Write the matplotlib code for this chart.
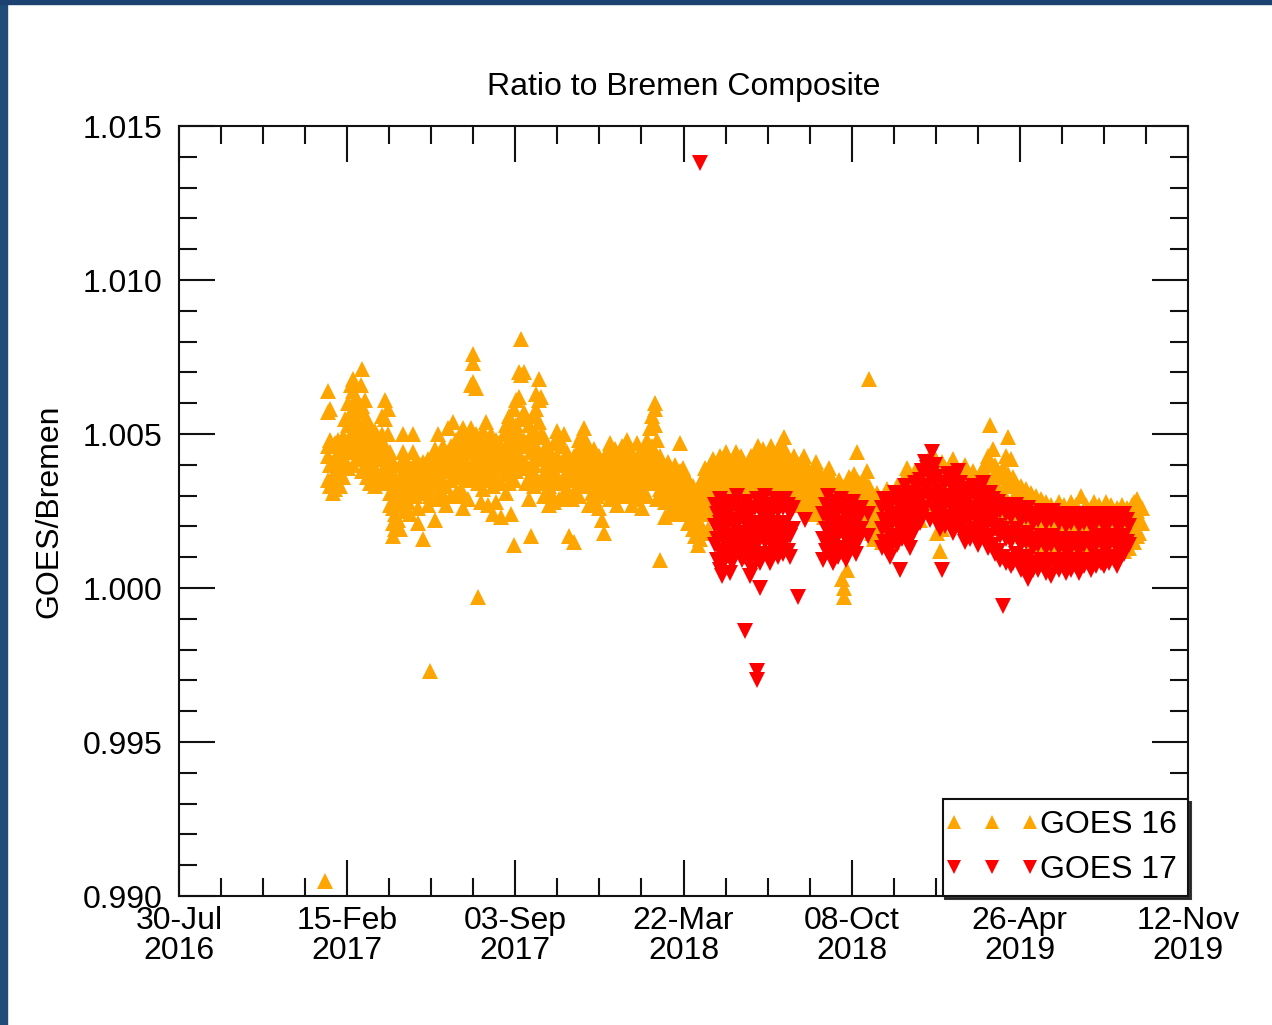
import numpy as np
import matplotlib
matplotlib.use("Agg")
import matplotlib.pyplot as plt
import matplotlib.dates as mdates
from matplotlib.ticker import FixedLocator, MultipleLocator, FormatStrFormatter
from matplotlib.patches import Rectangle
from matplotlib.lines import Line2D
from matplotlib.legend_handler import HandlerLine2D

plt.rcParams['font.family'] = ['Liberation Sans', 'DejaVu Sans']

# ---------------- data ----------------
start_date = np.datetime64('2016-07-30')
end_date = np.datetime64('2019-11-12')
tick_dates = ['2016-07-30', '2017-02-15', '2017-09-03', '2018-03-22',
              '2018-10-08', '2019-04-26', '2019-11-12']

title = 'Ratio to Bremen Composite'
ylabel = 'GOES/Bremen'
series_names = ['GOES 16', 'GOES 17']

# days since 2016-07-30 and the ratios observed on/around that day
g16_days = [174, 177, 180, 183, 186, 189, 192, 195, 198, 201, 204, 207, 210, 213, 216, 218, 221, 224, 227, 230,
            233, 236, 239, 242, 245, 248, 251, 254, 257, 260, 263, 266, 269, 272, 275, 278, 281, 284, 287, 290,
            293, 296, 299, 302, 305, 308, 311, 314, 317, 320, 323, 326, 329, 332, 335, 338, 341, 344, 347, 350,
            353, 356, 359, 362, 365, 368, 371, 374, 377, 380, 383, 386, 389, 392, 395, 398, 401, 404, 407, 410,
            413, 416, 419, 422, 425, 428, 431, 434, 437, 440, 443, 446, 449, 452, 455, 458, 461, 464, 467, 470,
            473, 476, 479, 482, 485, 488, 491, 494, 497, 500, 503, 506, 509, 512, 515, 518, 521, 524, 527, 530,
            533, 536, 539, 542, 545, 548, 551, 554, 557, 560, 563, 566, 569, 572, 575, 578, 581, 584, 587, 590,
            593, 596, 599, 602, 605, 608, 611, 614, 617, 620, 623, 626, 629, 632, 635, 638, 641, 644, 647, 650,
            653, 656, 659, 662, 665, 668, 671, 674, 677, 680, 683, 686, 689, 692, 695, 698, 701, 704, 707, 710,
            713, 716, 719, 722, 725, 728, 731, 734, 737, 740, 743, 746, 749, 752, 755, 758, 761, 764, 767, 770,
            773, 776, 779, 782, 785, 788, 791, 794, 797, 800, 803, 806, 809, 812, 815, 818, 821, 824, 827, 830,
            833, 836, 839, 842, 845, 848, 851, 854, 857, 860, 863, 866, 869, 872, 875, 878, 881, 884, 887, 890,
            893, 896, 899, 902, 905, 908, 911, 914, 917, 920, 923, 926, 929, 932, 935, 938, 941, 944, 947, 950,
            953, 956, 959, 962, 965, 968, 971, 974, 977, 980, 983, 986, 989, 992, 995, 998, 1001, 1004, 1007, 1010,
            1013, 1016, 1019, 1022, 1025, 1028, 1031, 1034, 1037, 1040, 1043, 1046, 1049, 1052, 1055, 1058, 1061,
            1064, 1067, 1070, 1073, 1076, 1079, 1082, 1085, 1088, 1091, 1094, 1097, 1100, 1103, 1106, 1109, 1112,
            1115, 1118, 1121, 1124, 1127, 1130, 1133, 1136, 1139, 1142, 1145]

g16_vals = [
    [0.9905], [1.0064, 1.0057, 1.0046, 1.0043, 1.0035], [1.0058, 1.0048, 1.0040, 1.0033], [1.0046, 1.0041, 1.0036, 1.0031],
    [1.0047, 1.0038, 1.0032], [1.0048, 1.0042, 1.0037], [1.0045, 1.0039, 1.0033], [1.0049, 1.0043, 1.0036],
    [1.0055, 1.0048, 1.0041], [1.0060, 1.0053, 1.0046, 1.0039], [1.0066, 1.0057, 1.0050, 1.0044],
    [1.0068, 1.0064, 1.0055, 1.0047, 1.0040], [1.0062, 1.0058, 1.0051, 1.0044], [1.0060, 1.0054, 1.0048, 1.0042],
    [1.0066, 1.0057, 1.0050, 1.0043], [1.0071, 1.0059, 1.0052, 1.0046, 1.0038], [1.0061, 1.0054, 1.0047, 1.0040],
    [1.0055, 1.0049, 1.0043, 1.0036], [1.0052, 1.0046, 1.0040, 1.0034], [1.0049, 1.0044, 1.0038],
    [1.0051, 1.0045, 1.0039, 1.0033], [1.0047, 1.0042, 1.0036], [1.0048, 1.0043, 1.0035], [1.0056, 1.0050, 1.0044, 1.0037],
    [1.0061, 1.0055, 1.0046, 1.0040, 1.0034], [1.0058, 1.0050, 1.0042, 1.0036], [1.0044, 1.0038, 1.0031, 1.0027],
    [1.0041, 1.0034, 1.0026, 1.0021, 1.0017], [1.0036, 1.0030, 1.0024, 1.0019], [1.0033, 1.0027, 1.0022],
    [1.0040, 1.0034, 1.0028, 1.0019], [1.0050, 1.0044, 1.0038, 1.0032], [1.0042, 1.0037, 1.0031, 1.0025],
    [1.0040, 1.0035, 1.0028], [1.0039, 1.0034, 1.0030, 1.0024], [1.0050, 1.0044, 1.0038, 1.0032],
    [1.0041, 1.0036, 1.0030], [1.0039, 1.0033, 1.0026, 1.0021], [1.0040, 1.0036, 1.0031],
    [1.0041, 1.0037, 1.0033, 1.0016], [1.0040, 1.0036, 1.0032], [1.0042, 1.0038, 1.0033, 1.0027],
    [1.0040, 1.0036, 1.0030, 0.9973], [1.0043, 1.0038, 1.0034], [1.0045, 1.0039, 1.0034, 1.0022],
    [1.0050, 1.0041, 1.0036, 1.0029], [1.0043, 1.0038, 1.0032], [1.0046, 1.0040, 1.0034, 1.0030],
    [1.0042, 1.0038, 1.0033, 1.0027], [1.0052, 1.0044, 1.0038], [1.0046, 1.0040, 1.0035, 1.0030],
    [1.0054, 1.0044, 1.0039], [1.0048, 1.0042, 1.0037, 1.0031], [1.0045, 1.0041, 1.0036],
    [1.0050, 1.0043, 1.0038, 1.0032], [1.0052, 1.0045, 1.0040, 1.0030, 1.0026], [1.0047, 1.0041, 1.0035],
    [1.0049, 1.0044, 1.0038, 1.0029], [1.0066, 1.0052, 1.0045, 1.0039], [1.0076, 1.0073, 1.0067, 1.0048, 1.0041, 1.0035],
    [1.0065, 1.0050, 1.0043, 1.0037], [1.0046, 1.0040, 1.0034, 0.9997], [1.0048, 1.0042, 1.0036, 1.0028],
    [1.0051, 1.0044, 1.0038, 1.0032], [1.0054, 1.0046, 1.0040], [1.0047, 1.0041, 1.0035, 1.0027],
    [1.0050, 1.0043, 1.0037], [1.0045, 1.0040, 1.0033, 1.0024], [1.0048, 1.0042, 1.0036, 1.0028],
    [1.0047, 1.0041, 1.0035], [1.0046, 1.0040, 1.0034, 1.0023], [1.0050, 1.0043, 1.0037],
    [1.0053, 1.0045, 1.0039, 1.0031], [1.0056, 1.0048, 1.0041, 1.0034], [1.0052, 1.0046, 1.0040, 1.0024],
    [1.0058, 1.0049, 1.0042, 1.0035, 1.0014], [1.0061, 1.0053, 1.0045, 1.0038], [1.0070, 1.0062, 1.0050, 1.0043],
    [1.0081, 1.0069, 1.0055, 1.0046, 1.0039], [1.0070, 1.0057, 1.0048, 1.0041],
    [1.0055, 1.0047, 1.0040, 1.0034], [1.0053, 1.0046, 1.0039, 1.0029], [1.0050, 1.0044, 1.0037, 1.0017],
    [1.0056, 1.0047, 1.0040, 1.0033], [1.0063, 1.0058, 1.0050, 1.0043, 1.0036], [1.0068, 1.0061, 1.0054, 1.0044],
    [1.0062, 1.0050, 1.0042, 1.0035], [1.0049, 1.0043, 1.0036, 1.0030], [1.0046, 1.0040, 1.0034],
    [1.0045, 1.0039, 1.0033, 1.0027], [1.0043, 1.0037, 1.0031], [1.0047, 1.0040, 1.0034, 1.0028],
    [1.0051, 1.0043, 1.0036], [1.0049, 1.0041, 1.0035, 1.0029], [1.0046, 1.0040, 1.0034],
    [1.0050, 1.0042, 1.0036, 1.0031], [1.0044, 1.0038, 1.0032], [1.0041, 1.0036, 1.0030, 1.0017],
    [1.0040, 1.0035, 1.0029], [1.0043, 1.0037, 1.0031, 1.0015],
    [1.0044, 1.0039, 1.0033], [1.0048, 1.0042, 1.0036, 1.0030], [1.0050, 1.0044, 1.0038],
    [1.0052, 1.0046, 1.0040, 1.0034], [1.0047, 1.0042, 1.0036], [1.0044, 1.0039, 1.0033, 1.0027],
    [1.0042, 1.0037, 1.0031], [1.0045, 1.0039, 1.0034, 1.0028], [1.0041, 1.0036, 1.0030],
    [1.0043, 1.0038, 1.0032, 1.0026], [1.0040, 1.0035, 1.0022], [1.0042, 1.0037, 1.0031, 1.0018],
    [1.0044, 1.0039, 1.0033], [1.0047, 1.0041, 1.0035, 1.0029], [1.0043, 1.0038, 1.0032],
    [1.0045, 1.0040, 1.0034], [1.0042, 1.0037, 1.0031, 1.0027], [1.0044, 1.0039, 1.0033],
    [1.0046, 1.0040, 1.0035, 1.0030], [1.0043, 1.0038, 1.0032],
    [1.0048, 1.0042, 1.0036, 1.0030], [1.0045, 1.0040, 1.0034], [1.0043, 1.0038, 1.0033, 1.0027],
    [1.0041, 1.0036, 1.0031], [1.0047, 1.0040, 1.0035, 1.0029], [1.0044, 1.0039, 1.0034],
    [1.0042, 1.0037, 1.0031, 1.0026], [1.0045, 1.0040, 1.0035], [1.0048, 1.0042, 1.0037, 1.0030],
    [1.0052, 1.0044, 1.0038], [1.0056, 1.0046, 1.0040, 1.0034], [1.0060, 1.0058, 1.0053, 1.0043, 1.0037],
    [1.0048, 1.0041, 1.0035, 1.0029], [1.0043, 1.0037, 1.0032, 1.0009], [1.0040, 1.0035, 1.0029],
    [1.0038, 1.0033, 1.0028, 1.0023], [1.0041, 1.0036, 1.0031], [1.0039, 1.0034, 1.0029, 1.0024],
    [1.0037, 1.0032, 1.0027], [1.0040, 1.0035, 1.0030, 1.0025],
    [1.0036, 1.0031, 1.0026], [1.0047, 1.0038, 1.0033, 1.0028], [1.0039, 1.0034, 1.0029, 1.0024],
    [1.0037, 1.0032, 1.0027], [1.0035, 1.0030, 1.0026, 1.0021], [1.0034, 1.0029, 1.0024],
    [1.0033, 1.0028, 1.0023, 1.0019], [1.0031, 1.0027, 1.0022, 1.0017], [1.0030, 1.0025, 1.0020, 1.0014],
    [1.0033, 1.0027, 1.0021, 1.0016], [1.0036, 1.0030, 1.0024, 1.0018], [1.0039, 1.0033, 1.0027],
    [1.0037, 1.0031, 1.0025, 1.0019], [1.0040, 1.0035, 1.0029], [1.0042, 1.0036, 1.0030, 1.0024],
    [1.0039, 1.0033, 1.0027], [1.0041, 1.0035, 1.0029], [1.0043, 1.0037, 1.0031], [1.0040, 1.0034, 1.0028],
    [1.0044, 1.0038, 1.0032],
    [1.0041, 1.0036, 1.0030], [1.0038, 1.0033, 1.0027], [1.0042, 1.0036, 1.0030], [1.0044, 1.0038, 1.0032],
    [1.0040, 1.0035, 1.0029], [1.0043, 1.0037, 1.0031], [1.0041, 1.0035, 1.0029], [1.0038, 1.0032, 1.0026],
    [1.0040, 1.0034, 1.0028], [1.0043, 1.0037, 1.0031], [1.0041, 1.0036, 1.0030], [1.0044, 1.0038, 1.0032],
    [1.0046, 1.0040, 1.0034], [1.0042, 1.0036, 1.0030], [1.0045, 1.0039, 1.0033], [1.0041, 1.0035, 1.0029],
    [1.0043, 1.0037, 1.0031], [1.0046, 1.0040, 1.0034], [1.0044, 1.0038, 1.0032], [1.0042, 1.0036, 1.0030],
    [1.0045, 1.0039, 1.0033], [1.0047, 1.0041, 1.0035], [1.0049, 1.0043, 1.0036], [1.0044, 1.0038, 1.0032],
    [1.0042, 1.0036, 1.0030], [1.0040, 1.0034, 1.0028], [1.0043, 1.0037, 1.0031], [1.0041, 1.0035, 1.0029],
    [1.0039, 1.0033, 1.0027], [1.0041, 1.0035, 1.0029], [1.0043, 1.0037, 1.0031], [1.0040, 1.0034, 1.0028],
    [1.0038, 1.0032, 1.0026], [1.0036, 1.0030, 1.0024], [1.0039, 1.0033, 1.0027], [1.0041, 1.0035, 1.0029],
    [1.0038, 1.0032, 1.0026], [1.0036, 1.0030, 1.0024], [1.0034, 1.0029, 1.0023], [1.0037, 1.0031, 1.0025],
    [1.0039, 1.0033, 1.0027], [1.0036, 1.0030, 1.0024], [1.0034, 1.0028, 1.0022], [1.0032, 1.0026, 1.0020],
    [1.0035, 1.0029, 1.0023, 1.0012], [1.0033, 1.0027, 1.0021, 1.0003], [1.0031, 1.0025, 1.0019, 1.0000, 0.9997],
    [1.0034, 1.0028, 1.0022, 1.0006], [1.0036, 1.0030, 1.0024], [1.0033, 1.0027, 1.0021],
    [1.0037, 1.0031, 1.0025], [1.0044, 1.0035, 1.0029], [1.0034, 1.0028, 1.0022], [1.0032, 1.0026, 1.0020],
    [1.0035, 1.0029, 1.0023], [1.0038, 1.0031, 1.0025], [1.0068, 1.0033, 1.0027], [1.0030, 1.0024, 1.0018],
    [1.0028, 1.0022, 1.0016], [1.0031, 1.0025, 1.0019],
    [1.0029, 1.0023, 1.0017], [1.0027, 1.0021, 1.0015], [1.0030, 1.0024, 1.0018], [1.0032, 1.0026, 1.0020],
    [1.0029, 1.0023, 1.0017], [1.0027, 1.0021, 1.0015], [1.0030, 1.0024, 1.0018], [1.0033, 1.0027, 1.0021],
    [1.0031, 1.0025, 1.0019], [1.0034, 1.0028, 1.0022], [1.0036, 1.0030, 1.0024], [1.0039, 1.0033, 1.0027],
    [1.0037, 1.0031, 1.0025], [1.0035, 1.0029, 1.0023], [1.0038, 1.0032, 1.0026], [1.0036, 1.0030, 1.0024],
    [1.0034, 1.0028, 1.0022], [1.0037, 1.0031, 1.0025], [1.0040, 1.0033, 1.0027], [1.0038, 1.0032, 1.0026],
    [1.0041, 1.0035, 1.0029], [1.0044, 1.0037, 1.0031], [1.0042, 1.0036, 1.0030], [1.0040, 1.0034, 1.0028, 1.0018],
    [1.0038, 1.0032, 1.0026, 1.0012], [1.0041, 1.0035, 1.0029, 1.0019], [1.0039, 1.0033, 1.0027],
    [1.0037, 1.0031, 1.0025], [1.0040, 1.0034, 1.0028], [1.0042, 1.0036, 1.0030], [1.0039, 1.0033, 1.0027],
    [1.0037, 1.0031, 1.0025], [1.0035, 1.0029, 1.0023], [1.0038, 1.0032, 1.0026], [1.0040, 1.0034, 1.0028],
    [1.0037, 1.0031, 1.0025], [1.0035, 1.0029, 1.0023], [1.0038, 1.0032, 1.0026], [1.0036, 1.0030, 1.0024],
    [1.0034, 1.0028, 1.0022],
    [1.0037, 1.0031, 1.0025], [1.0039, 1.0033, 1.0027], [1.0036, 1.0030, 1.0024], [1.0043, 1.0034, 1.0028],
    [1.0053, 1.0041, 1.0032, 1.0026], [1.0045, 1.0036, 1.0030], [1.0040, 1.0034, 1.0027], [1.0038, 1.0032, 1.0025],
    [1.0036, 1.0029, 1.0023], [1.0039, 1.0031, 1.0024], [1.0043, 1.0034, 1.0026], [1.0049, 1.0037, 1.0028],
    [1.0042, 1.0033, 1.0025], [1.0036, 1.0029, 1.0022], [1.0034, 1.0027, 1.0020], [1.0031, 1.0025, 1.0018],
    [1.0033, 1.0026, 1.0019], [1.0030, 1.0024, 1.0017], [1.0032, 1.0025, 1.0018], [1.0029, 1.0023, 1.0016],
    [1.0031, 1.0024, 1.0017], [1.0028, 1.0022, 1.0015], [1.0030, 1.0023, 1.0016], [1.0027, 1.0021, 1.0014],
    [1.0029, 1.0022, 1.0015], [1.0026, 1.0020, 1.0013], [1.0028, 1.0021, 1.0014], [1.0025, 1.0019, 1.0013],
    [1.0027, 1.0020, 1.0014], [1.0024, 1.0018, 1.0012], [1.0026, 1.0020, 1.0013], [1.0028, 1.0021, 1.0014],
    [1.0025, 1.0019, 1.0013], [1.0027, 1.0020, 1.0014], [1.0024, 1.0018, 1.0012], [1.0026, 1.0020, 1.0013],
    [1.0028, 1.0021, 1.0015], [1.0025, 1.0019, 1.0013], [1.0027, 1.0020, 1.0014], [1.0024, 1.0018, 1.0012],
    [1.0030, 1.0021, 1.0014], [1.0025, 1.0019, 1.0013], [1.0027, 1.0020, 1.0014], [1.0024, 1.0018, 1.0012],
    [1.0026, 1.0020, 1.0013], [1.0028, 1.0021, 1.0015], [1.0025, 1.0019, 1.0013], [1.0027, 1.0020, 1.0014],
    [1.0024, 1.0018, 1.0012], [1.0026, 1.0020, 1.0013], [1.0028, 1.0021, 1.0015], [1.0025, 1.0019, 1.0013],
    [1.0027, 1.0020, 1.0014], [1.0024, 1.0018, 1.0012], [1.0026, 1.0020, 1.0013], [1.0025, 1.0019, 1.0013],
    [1.0027, 1.0021, 1.0015], [1.0024, 1.0018, 1.0012], [1.0026, 1.0020, 1.0014], [1.0025, 1.0019, 1.0013],
    [1.0027, 1.0021, 1.0016], [1.0028, 1.0023, 1.0018, 1.0015], [1.0029, 1.0025, 1.0021, 1.0017],
    [1.0027, 1.0022, 1.0018], [1.0026, 1.0021]]

g17_days = [620, 637, 640, 643, 646, 649, 652, 655, 658, 661, 664, 667, 670, 673, 676, 679, 682, 685, 688, 691,
            694, 697, 700, 703, 706, 709, 712, 715, 718, 721, 724, 727, 730, 736, 745, 766, 769, 772, 775, 778,
            781, 784, 787, 790, 793, 796, 799, 802, 805, 808, 811, 820, 836, 839, 842, 845, 848, 851, 854, 857,
            860, 863, 866, 869, 872, 875, 878, 881, 884, 887, 890, 893, 896, 899, 902, 905, 908, 911, 914, 917,
            920, 923, 926, 929, 932, 935, 938, 941, 944, 947, 950, 953, 956, 959, 962, 965, 968, 971, 974, 977,
            980, 983, 986, 989, 992, 995, 998, 1001, 1004, 1007, 1010, 1013, 1016, 1019, 1022, 1025, 1028, 1031,
            1034, 1037, 1040, 1043, 1046, 1049, 1052, 1055, 1058, 1061, 1064, 1067, 1070, 1073, 1076, 1079, 1082,
            1085, 1088, 1091, 1094, 1097, 1100, 1103, 1106, 1109, 1112, 1115, 1118, 1121, 1124, 1127, 1130]

g17_vals = [
    [1.0138], [1.0027, 1.0020, 1.0014], [1.0024, 1.0016, 1.0009], [1.0029, 1.0021, 1.0012, 1.0006],
    [1.0026, 1.0018, 1.0008, 1.0004], [1.0023, 1.0015, 1.0009], [1.0028, 1.0020, 1.0013],
    [1.0025, 1.0017, 1.0010, 1.0005], [1.0022, 1.0014, 1.0008], [1.0027, 1.0019, 1.0012],
    [1.0030, 1.0022, 1.0015], [1.0026, 1.0018, 1.0011], [1.0023, 1.0016, 1.0009],
    [1.0025, 1.0017, 1.0010, 0.9986], [1.0028, 1.0020, 1.0013], [1.0024, 1.0016, 1.0009, 1.0004],
    [1.0021, 1.0013, 1.0006], [1.0026, 1.0018, 1.0010], [1.0029, 1.0021, 1.0014, 0.9973, 0.9970],
    [1.0025, 1.0017, 1.0008, 1.0000], [1.0027, 1.0019, 1.0011], [1.0030, 1.0022, 1.0015],
    [1.0026, 1.0018, 1.0010], [1.0023, 1.0015, 1.0008], [1.0027, 1.0019, 1.0011], [1.0029, 1.0021, 1.0014],
    [1.0025, 1.0017, 1.0010], [1.0028, 1.0020, 1.0013], [1.0026, 1.0018, 1.0011], [1.0029, 1.0021, 1.0015],
    [1.0027, 1.0019, 1.0012], [1.0024, 1.0017, 1.0010], [1.0026, 1.0019], [0.9997], [1.0022],
    [1.0024, 1.0016, 1.0009], [1.0027, 1.0019, 1.0012], [1.0030, 1.0022, 1.0014], [1.0026, 1.0018, 1.0010],
    [1.0023, 1.0015, 1.0008], [1.0028, 1.0020, 1.0012], [1.0025, 1.0017, 1.0010], [1.0029, 1.0021, 1.0013],
    [1.0026, 1.0018, 1.0011], [1.0023, 1.0016, 1.0009], [1.0027, 1.0019, 1.0012], [1.0024, 1.0017],
    [1.0028, 1.0020, 1.0013], [1.0025, 1.0018, 1.0011], [1.0022, 1.0015], [1.0026, 1.0019], [1.0024, 1.0017],
    [1.0026, 1.0019, 1.0013], [1.0029, 1.0022, 1.0015], [1.0027, 1.0020, 1.0012], [1.0024, 1.0017, 1.0010],
    [1.0028, 1.0021, 1.0014], [1.0031, 1.0023, 1.0016], [1.0029, 1.0021, 1.0014], [1.0026, 1.0019, 1.0006],
    [1.0030, 1.0023, 1.0016], [1.0033, 1.0025, 1.0018], [1.0030, 1.0022, 1.0015], [1.0027, 1.0020, 1.0013],
    [1.0031, 1.0024, 1.0017], [1.0034, 1.0026, 1.0019], [1.0032, 1.0025], [1.0035, 1.0028, 1.0021],
    [1.0038, 1.0030, 1.0023], [1.0041, 1.0033, 1.0026], [1.0039, 1.0032], [1.0036, 1.0029, 1.0022],
    [1.0044, 1.0037, 1.0030], [1.0040, 1.0033, 1.0025], [1.0036, 1.0028, 1.0021], [1.0033, 1.0026, 1.0019],
    [1.0030, 1.0023, 1.0006], [1.0034, 1.0027, 1.0020], [1.0037, 1.0030, 1.0023], [1.0035, 1.0028, 1.0021],
    [1.0032, 1.0025, 1.0018], [1.0036, 1.0029, 1.0022], [1.0038, 1.0031, 1.0024], [1.0034, 1.0027, 1.0020],
    [1.0031, 1.0024, 1.0017], [1.0029, 1.0022, 1.0015], [1.0032, 1.0025, 1.0018], [1.0030, 1.0023, 1.0016],
    [1.0033, 1.0026, 1.0019], [1.0031, 1.0024, 1.0017], [1.0028, 1.0021, 1.0014], [1.0032, 1.0025, 1.0018],
    [1.0034, 1.0027, 1.0020], [1.0030, 1.0023, 1.0016], [1.0028, 1.0021, 1.0013], [1.0031, 1.0024, 1.0017],
    [1.0029, 1.0022, 1.0014], [1.0026, 1.0019, 1.0011], [1.0028, 1.0020, 1.0012], [1.0025, 1.0017, 1.0009],
    [1.0027, 1.0019, 1.0010, 0.9994], [1.0024, 1.0016, 1.0008], [1.0026, 1.0018, 1.0009],
    [1.0023, 1.0015, 1.0007], [1.0025, 1.0017, 1.0008], [1.0027, 1.0019, 1.0011], [1.0024, 1.0016, 1.0008],
    [1.0022, 1.0014, 1.0006], [1.0025, 1.0017, 1.0009], [1.0023, 1.0015, 1.0005],
    [1.0026, 1.0018, 1.0010, 1.0003], [1.0024, 1.0016, 1.0008], [1.0021, 1.0013, 1.0006],
    [1.0024, 1.0016, 1.0008], [1.0022, 1.0014, 1.0006], [1.0025, 1.0017, 1.0009], [1.0023, 1.0015, 1.0007],
    [1.0021, 1.0013, 1.0005], [1.0024, 1.0016, 1.0008], [1.0022, 1.0014, 1.0004], [1.0025, 1.0017, 1.0009],
    [1.0023, 1.0015, 1.0007], [1.0021, 1.0013, 1.0006], [1.0024, 1.0016, 1.0009], [1.0022, 1.0014, 1.0007],
    [1.0020, 1.0012, 1.0005], [1.0023, 1.0015, 1.0008], [1.0021, 1.0013, 1.0006], [1.0024, 1.0016, 1.0009],
    [1.0022, 1.0014, 1.0007], [1.0020, 1.0012, 1.0005], [1.0023, 1.0015, 1.0008], [1.0021, 1.0014, 1.0007],
    [1.0024, 1.0016, 1.0009], [1.0022, 1.0015, 1.0008], [1.0020, 1.0013, 1.0006], [1.0023, 1.0016, 1.0009],
    [1.0021, 1.0014, 1.0007], [1.0024, 1.0017, 1.0010], [1.0022, 1.0015, 1.0008], [1.0020, 1.0013, 1.0007],
    [1.0023, 1.0016, 1.0009], [1.0021, 1.0014, 1.0008], [1.0024, 1.0017, 1.0010], [1.0022, 1.0015, 1.0009],
    [1.0020, 1.0013, 1.0007], [1.0023, 1.0016, 1.0010], [1.0021, 1.0014], [1.0024, 1.0017, 1.0011],
    [1.0022, 1.0015], [1.0020, 1.0014]]


def flatten(days, vals):
    d, v = [], []
    for day, vs in zip(days, vals):
        for x in vs:
            d.append(day)
            v.append(x)
    return start_date + np.array(d).astype('timedelta64[D]'), np.array(v)


x16, y16 = flatten(g16_days, g16_vals)
x17, y17 = flatten(g17_days, g17_vals)

# ---------------- figure ----------------
W, H = 1272, 1025
fig = plt.figure(figsize=(W / 100, H / 100), dpi=100, facecolor='white')

# dark blue frame strips (slide background)
fig.patches.append(Rectangle((0, 0), 7 / W, 1, transform=fig.transFigure, color='#1f4c78', zorder=0))
fig.patches.append(Rectangle((0, 1 - 4 / H), 1, 4 / H, transform=fig.transFigure, color='#1c4272', zorder=0))

ax = fig.add_axes([179 / W, 1 - 896 / H, (1188 - 179) / W, (896 - 126) / H])

FS = 23
ax.plot(x16, y16, ls='none', marker='^', ms=12, mew=0, color='#FFA500', label=series_names[0], zorder=2)
ax.plot(x17, y17, ls='none', marker='v', ms=12, mew=0, color='#FF0000', label=series_names[1], zorder=3)

ax.set_xlim(start_date, end_date)
ax.set_ylim(0.990, 1.015)

tdates = [np.datetime64(t) for t in tick_dates]
ax.xaxis.set_major_locator(FixedLocator(mdates.date2num(tdates)))
minor = mdates.date2num(start_date) + np.arange(0, 1201, 50)
ax.xaxis.set_minor_locator(FixedLocator(minor))
ax.xaxis.set_major_formatter(mdates.DateFormatter('%d-%b\n%Y'))

ax.yaxis.set_major_locator(MultipleLocator(0.005))
ax.yaxis.set_minor_locator(MultipleLocator(0.001))
ax.yaxis.set_major_formatter(FormatStrFormatter('%.3f'))

ax.tick_params(which='both', direction='in', top=True, right=True, width=1.5, color='#111111')
ax.tick_params(which='major', length=26)
ax.tick_params(which='minor', length=13)
ax.tick_params(axis='y', which='major', labelsize=FS, pad=12)
ax.tick_params(axis='x', which='major', labelsize=FS, pad=7)

for s in ax.spines.values():
    s.set_linewidth(1.5)
    s.set_color('#111111')

ax.set_title(title, fontsize=FS, pad=22)
ax.set_ylabel(ylabel, fontsize=FS)
ax.yaxis.set_label_coords(-0.114, 0.5)

leg = ax.legend(loc='lower right', numpoints=3, markerscale=0.85, fontsize=FS,
                handler_map={Line2D: HandlerLine2D(marker_pad=0)},
                frameon=True, fancybox=False, shadow={'color': '#222222', 'alpha': 0.9},
                borderaxespad=0, handlelength=2.4, handletextpad=0.3, borderpad=0.35,
                labelspacing=0.45)
leg.get_frame().set_edgecolor('#111111')
leg.get_frame().set_linewidth(1.5)

fig.canvas.draw()
for lab in ax.get_xticklabels():
    lab.set_linespacing(1.03)

fig.savefig('out.png', dpi=100, facecolor='white')
